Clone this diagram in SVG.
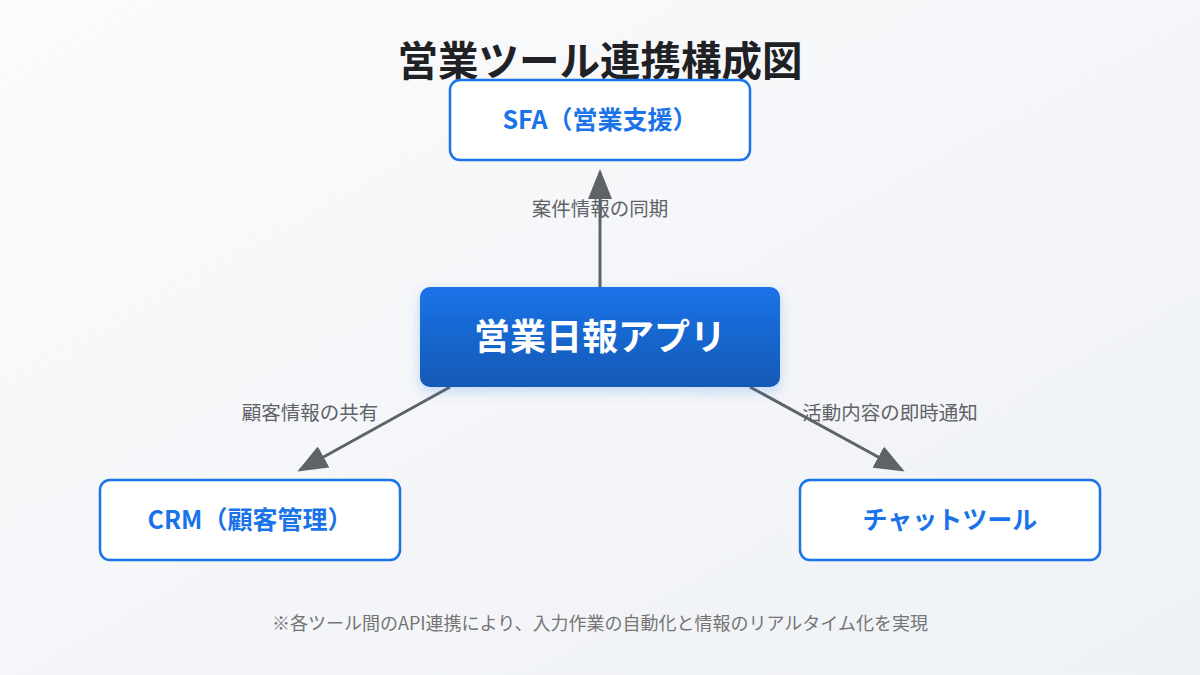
<svg xmlns="http://www.w3.org/2000/svg" width="1200" height="675" viewBox="0 0 1200 675">
<defs>
<linearGradient id="bg" x1="0" y1="0" x2="1" y2="1"><stop offset="0" stop-color="#fbfbfc"/><stop offset="1" stop-color="#eef1f5"/></linearGradient>
<linearGradient id="main" x1="0" y1="0" x2="0" y2="1"><stop offset="0" stop-color="#1a73e8"/><stop offset="1" stop-color="#1859b5"/></linearGradient>
<filter id="sh" x="-20%" y="-20%" width="140%" height="150%"><feDropShadow dx="0" dy="4" stdDeviation="6" flood-color="#1a73e8" flood-opacity="0.25"/></filter>
<marker id="ah2" viewBox="0 0 10 10" refX="9" refY="5" markerWidth="30" markerHeight="24" markerUnits="userSpaceOnUse" orient="auto" preserveAspectRatio="none"><path d="M0,0 L10,5 L0,10 z" fill="#5f6368"/></marker>
</defs>
<style>
text{font-family:"Noto Sans CJK JP","Noto Sans",sans-serif;text-anchor:middle}
.box{fill:#fff;stroke:#1a73e8;stroke-width:2.5}
.bt{fill:#1a73e8;font-size:25px;font-weight:700}
.lbl{fill:#5f6368;font-size:19.5px}
.ln{stroke:#5f6368;stroke-width:3;fill:none;marker-end:url(#ah2)}
</style>
<rect width="1200" height="675" fill="url(#bg)"/>
<text x="600" y="76" font-size="40.5" font-weight="700" fill="#202124">営業ツール連携構成図</text>
<g id="connectors">
<line class="ln" x1="600" y1="287" x2="600" y2="172"/>
<line class="ln" x1="450" y1="387" x2="300" y2="470"/>
<line class="ln" x1="750" y1="387" x2="902" y2="470"/>
<text class="lbl" x="600" y="216">案件情報の同期</text>
<text class="lbl" x="310" y="420">顧客情報の共有</text>
<text class="lbl" x="890" y="420">活動内容の即時通知</text>
</g>
<g id="sfa"><rect class="box" x="450" y="80" width="300" height="80" rx="10"/><text class="bt" x="600" y="129">SFA（営業支援）</text></g>
<g id="main-app"><rect x="420" y="287" width="360" height="100" rx="10" fill="url(#main)" filter="url(#sh)"/><text x="600" y="350" font-size="36" font-weight="700" fill="#fff">営業日報アプリ</text></g>
<g id="crm"><rect class="box" x="100" y="480" width="300" height="80" rx="10"/><text class="bt" x="250" y="529">CRM（顧客管理）</text></g>
<g id="chat"><rect class="box" x="800" y="480" width="300" height="80" rx="10"/><text class="bt" x="950" y="529">チャットツール</text></g>
<text x="600" y="630" font-size="18" fill="#757575">※各ツール間のAPI連携により、入力作業の自動化と情報のリアルタイム化を実現</text>
</svg>
